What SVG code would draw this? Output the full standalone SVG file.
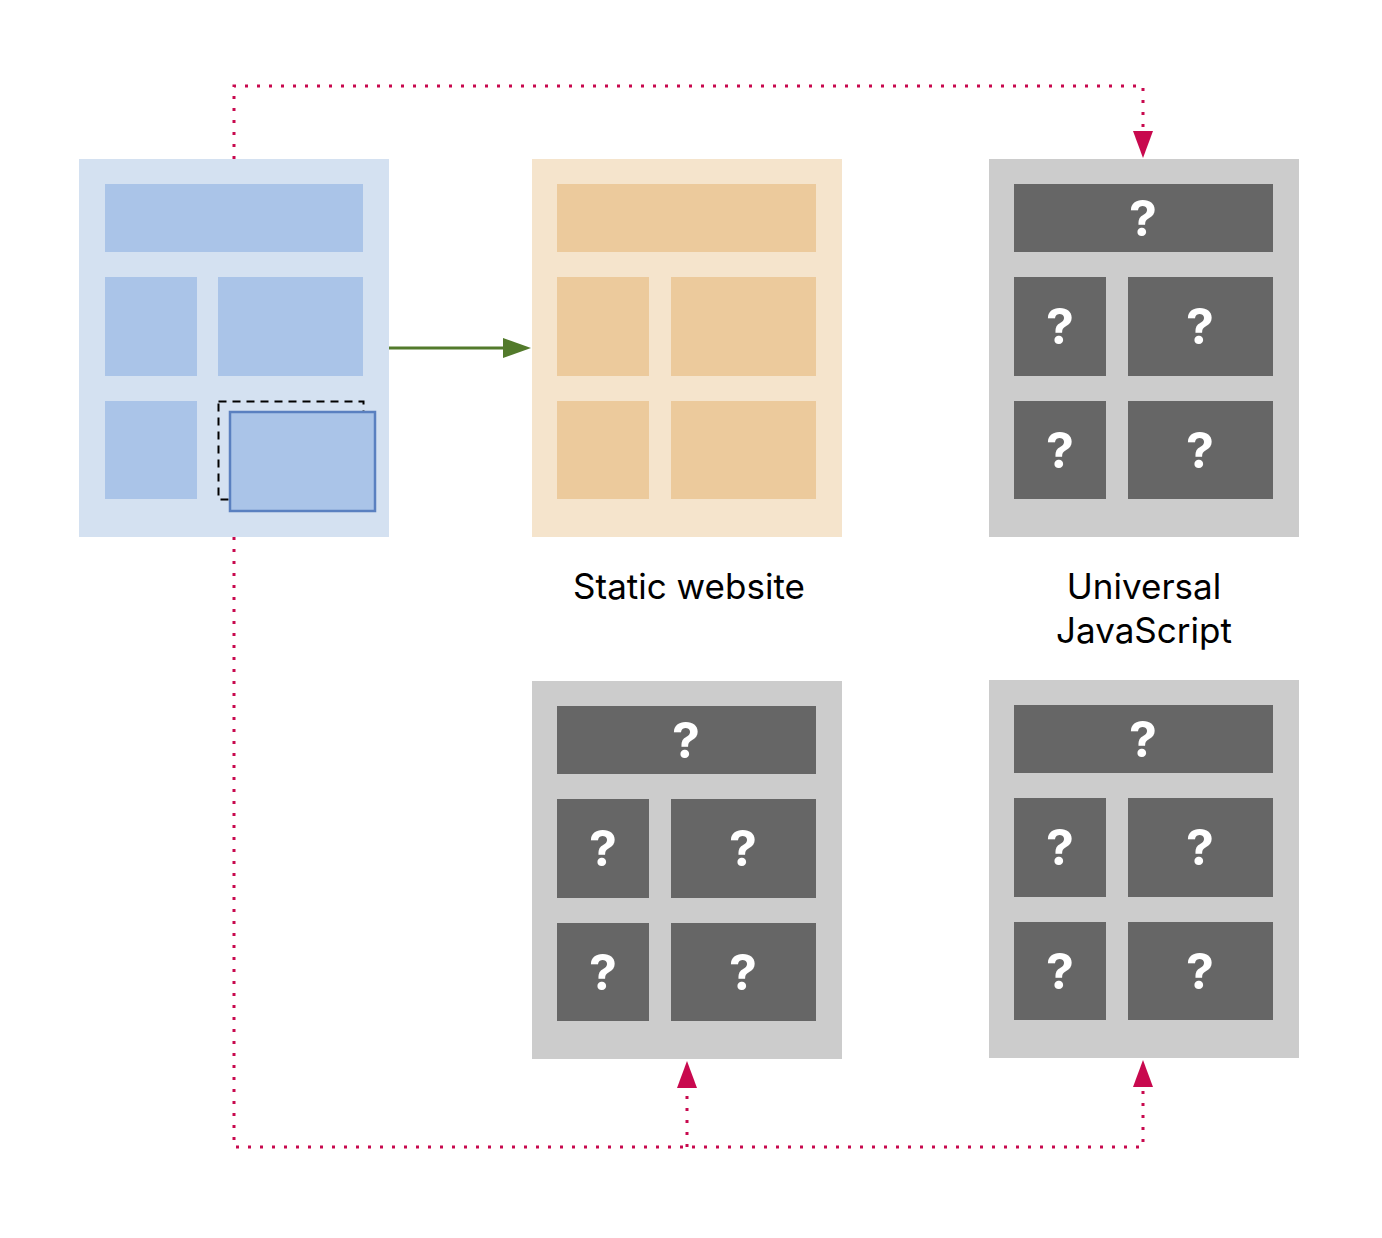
<svg xmlns="http://www.w3.org/2000/svg" width="1382" height="1238" viewBox="0 0 1382 1238">
<style>
.bg-blue{fill:#d4e1f1}
.in-blue{fill:#aac4e8}
.bg-or{fill:#f5e4cc}
.in-or{fill:#ecca9c}
.bg-gr{fill:#cccccc}
.in-gr{fill:#666666}
.q{font-family:Inter,"Liberation Sans",sans-serif;font-weight:700;font-size:50px;fill:#ffffff;text-anchor:middle}
.lbl{font-family:Inter,"Liberation Sans",sans-serif;font-size:35px;fill:#000000;text-anchor:middle}
.dot{fill:none;stroke:#c8094e;stroke-width:3;stroke-dasharray:3 9;stroke-linecap:butt}
</style>
<rect width="1382" height="1238" fill="#ffffff"/>
<g id="connectors">
<path class="dot" d="M234,159 V86 H1143 V132"/>
<path d="M1133,131 L1153,131 L1143,158 Z" fill="#c8094e"/>
<path class="dot" d="M234,537 V1147 H1143 V1087"/>
<path d="M1133,1087 L1153,1087 L1143,1060 Z" fill="#c8094e"/>
<path class="dot" d="M687,1147 V1088"/>
<path d="M677,1088 L697,1088 L687,1061 Z" fill="#c8094e"/>
<path d="M389,348 H505" stroke="#527a2b" stroke-width="3" fill="none"/>
<path d="M503,338 L531,348 L503,358 Z" fill="#527a2b"/>
</g>
<g id="node-source">
<rect class="bg-blue" x="79" y="159" width="310" height="378"/>
<rect class="in-blue" x="105" y="184" width="258" height="68"/>
<rect class="in-blue" x="105" y="277" width="92" height="99"/>
<rect class="in-blue" x="218" y="277" width="145" height="99"/>
<rect class="in-blue" x="105" y="401" width="92" height="98"/>
<rect x="218.5" y="401.5" width="145" height="98" fill="none" stroke="#000000" stroke-width="2" stroke-dasharray="8 6"/>
<rect x="230" y="412" width="145" height="99" fill="#aac4e8" stroke="#5a80c0" stroke-width="2.5"/>
</g>
<g id="node-static">
<rect class="bg-or" x="532" y="159" width="310" height="378"/>
<rect class="in-or" x="557" y="184" width="259" height="68"/>
<rect class="in-or" x="557" y="277" width="92" height="99"/>
<rect class="in-or" x="671" y="277" width="145" height="99"/>
<rect class="in-or" x="557" y="401" width="92" height="98"/>
<rect class="in-or" x="671" y="401" width="145" height="98"/>
<text class="lbl" x="689" y="599">Static website</text>
</g>
<g id="node-universal">
<rect class="bg-gr" x="989" y="159" width="310" height="378"/>
<rect class="in-gr" x="1014" y="184" width="259" height="68"/>
<rect class="in-gr" x="1014" y="277" width="92" height="99"/>
<rect class="in-gr" x="1128" y="277" width="145" height="99"/>
<rect class="in-gr" x="1014" y="401" width="92" height="98"/>
<rect class="in-gr" x="1128" y="401" width="145" height="98"/>
<text class="q" x="1143" y="236">?</text>
<text class="q" x="1060" y="344">?</text>
<text class="q" x="1200" y="344">?</text>
<text class="q" x="1060" y="468">?</text>
<text class="q" x="1200" y="468">?</text>
<text class="lbl" x="1144" y="599">Universal</text>
<text class="lbl" x="1144" y="643">JavaScript</text>
</g>
<g id="node-bottom-left">
<rect class="bg-gr" x="532" y="681" width="310" height="378"/>
<rect class="in-gr" x="557" y="706" width="259" height="68"/>
<rect class="in-gr" x="557" y="799" width="92" height="99"/>
<rect class="in-gr" x="671" y="799" width="145" height="99"/>
<rect class="in-gr" x="557" y="923" width="92" height="98"/>
<rect class="in-gr" x="671" y="923" width="145" height="98"/>
<text class="q" x="686" y="758">?</text>
<text class="q" x="603" y="866">?</text>
<text class="q" x="743" y="866">?</text>
<text class="q" x="603" y="990">?</text>
<text class="q" x="743" y="990">?</text>
</g>
<g id="node-bottom-right">
<rect class="bg-gr" x="989" y="680" width="310" height="378"/>
<rect class="in-gr" x="1014" y="705" width="259" height="68"/>
<rect class="in-gr" x="1014" y="798" width="92" height="99"/>
<rect class="in-gr" x="1128" y="798" width="145" height="99"/>
<rect class="in-gr" x="1014" y="922" width="92" height="98"/>
<rect class="in-gr" x="1128" y="922" width="145" height="98"/>
<text class="q" x="1143" y="757">?</text>
<text class="q" x="1060" y="865">?</text>
<text class="q" x="1200" y="865">?</text>
<text class="q" x="1060" y="989">?</text>
<text class="q" x="1200" y="989">?</text>
</g>
</svg>
